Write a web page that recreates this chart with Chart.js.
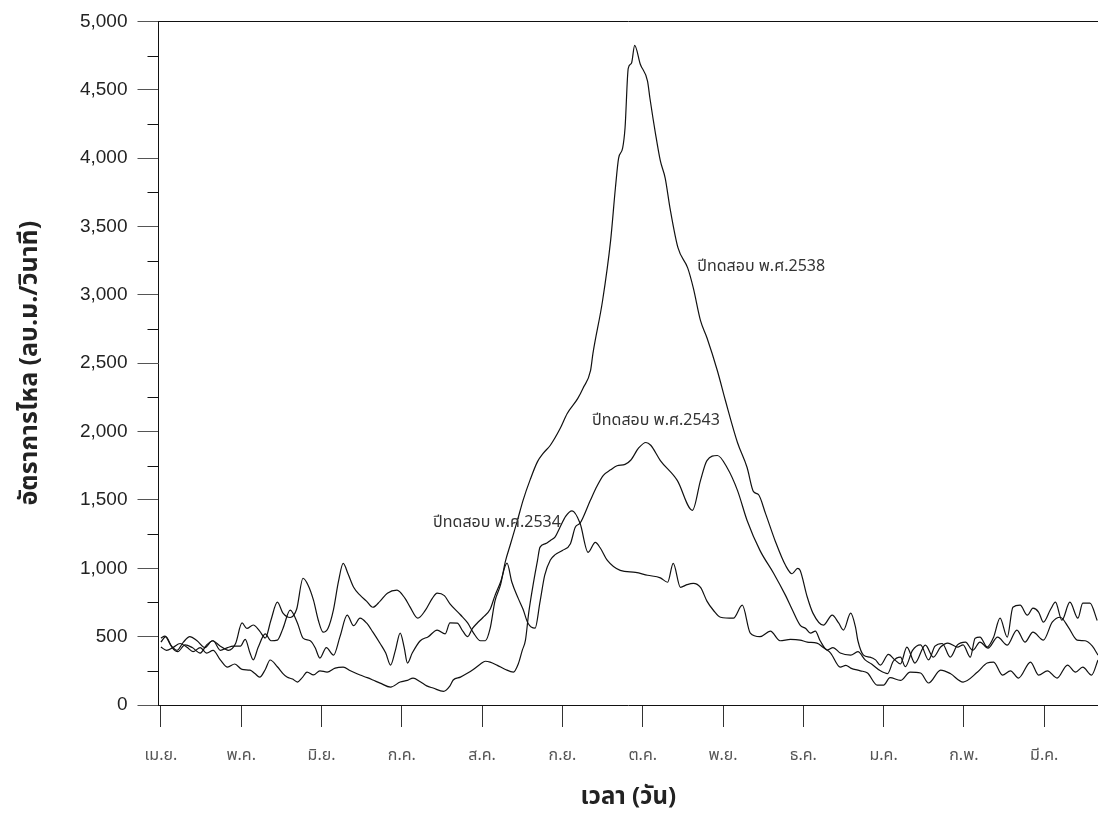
<!DOCTYPE html>
<html>
<head>
<meta charset="utf-8">
<script src="https://cdn.jsdelivr.net/npm/chart.js@4.4.1/dist/chart.umd.min.js"></script>
<style>
  body { margin: 0; background: #fff; }
</style>
</head>
<body>
<canvas id="flowChart" width="1098" height="814"></canvas>
<script>
// x = month index from April (0 = เม.ย.), y = flow in m3/s
const monthLabels = ['เม.ย.', 'พ.ค.', 'มิ.ย.', 'ก.ค.', 'ส.ค.', 'ก.ย.', 'ต.ค.', 'พ.ย.', 'ธ.ค.', 'ม.ค.', 'ก.พ.', 'มี.ค.'];

const flow2538 = [
  [0.00,489],[0.05,504],[0.12,440],[0.20,400],[0.28,460],[0.36,500],[0.45,470],[0.55,420],[0.64,470],[0.74,430],
  [0.84,400],[0.93,450],[1.01,600],[1.07,560],[1.15,585],[1.23,540],[1.30,490],[1.37,620],[1.45,752],[1.52,672],
  [1.61,640],[1.69,700],[1.77,927],[1.83,880],[1.90,767],[1.96,620],[2.02,533],[2.08,560],[2.15,700],[2.21,900],
  [2.27,1036],[2.33,960],[2.40,861],[2.48,803],[2.56,760],[2.64,715],[2.73,760],[2.82,818],[2.94,840],[3.04,780],
  [3.10,720],[3.20,635],[3.29,690],[3.38,780],[3.44,818],[3.53,800],[3.60,740],[3.73,660],[3.82,600],[3.89,530],
  [3.98,470],[4.04,470],[4.10,560],[4.16,760],[4.23,880],[4.29,1050],[4.35,1170],[4.44,1350],[4.51,1497],[4.60,1650],
  [4.69,1780],[4.76,1840],[4.85,1900],[4.97,2020],[5.06,2132],[5.19,2241],[5.26,2321],[5.35,2445],[5.38,2570],[5.50,2957],
  [5.60,3395],[5.66,3781],[5.70,4000],[5.75,4073],[5.78,4220],[5.82,4657],[5.86,4694],[5.90,4825],[5.97,4687],[6.06,4563],
  [6.09,4438],[6.16,4176],[6.22,3979],[6.28,3854],[6.34,3635],[6.44,3343],[6.56,3197],[6.63,3051],[6.72,2811],[6.80,2686],
  [6.93,2445],[7.03,2227],[7.18,1920],[7.30,1737],[7.38,1560],[7.44,1540],[7.53,1400],[7.65,1200],[7.78,1020],[7.86,960],
  [7.93,1000],[7.96,985],[8.05,788],[8.12,672],[8.25,584],[8.36,657],[8.44,600],[8.50,548],[8.59,672],[8.65,570],
  [8.68,470],[8.75,365],[8.83,350],[8.90,330],[8.96,292],[9.06,370],[9.14,330],[9.21,300],[9.29,424],[9.39,307],
  [9.52,438],[9.62,350],[9.71,424],[9.80,453],[9.92,424],[9.99,440],[10.08,350],[10.14,489],[10.20,496],[10.29,424],
  [10.37,496],[10.45,635],[10.54,496],[10.61,715],[10.70,730],[10.79,657],[10.86,708],[10.93,680],[10.99,606],[11.08,700],
  [11.14,752],[11.22,620],[11.32,752],[11.42,635],[11.48,745],[11.57,745],[11.66,618]
];

const flow2543 = [
  [0.00,460],[0.06,500],[0.14,420],[0.21,390],[0.30,440],[0.39,420],[0.49,380],[0.57,440],[0.65,470],[0.74,400],
  [0.83,420],[0.90,430],[0.99,430],[1.05,480],[1.11,380],[1.15,330],[1.21,420],[1.30,520],[1.37,470],[1.45,475],
  [1.52,560],[1.61,694],[1.70,600],[1.77,489],[1.86,470],[1.92,420],[1.98,343],[2.06,420],[2.15,365],[2.23,500],
  [2.32,657],[2.40,580],[2.48,635],[2.56,600],[2.64,533],[2.73,450],[2.80,380],[2.86,292],[2.92,400],[2.98,526],
  [3.03,420],[3.07,307],[3.13,380],[3.23,470],[3.33,500],[3.44,548],[3.54,520],[3.60,600],[3.69,599],[3.76,540],
  [3.82,500],[3.88,560],[3.94,600],[4.01,640],[4.10,700],[4.16,800],[4.23,900],[4.31,1037],[4.37,900],[4.45,780],
  [4.51,700],[4.57,600],[4.66,562],[4.72,750],[4.78,950],[4.85,1060],[4.91,1100],[5.00,1130],[5.10,1180],[5.16,1300],
  [5.22,1330],[5.35,1500],[5.43,1600],[5.51,1680],[5.60,1720],[5.68,1750],[5.78,1760],[5.85,1790],[5.95,1880],[6.04,1920],
  [6.10,1900],[6.22,1788],[6.43,1643],[6.62,1424],[6.72,1643],[6.80,1788],[6.93,1825],[7.05,1737],[7.18,1570],[7.30,1350],
  [7.46,1131],[7.63,964],[7.78,800],[7.86,700],[7.96,584],[8.03,560],[8.09,526],[8.15,540],[8.21,470],[8.30,402],
  [8.37,420],[8.46,380],[8.59,365],[8.68,390],[8.77,330],[8.85,300],[8.96,250],[9.05,230],[9.12,320],[9.21,350],
  [9.27,280],[9.36,400],[9.46,440],[9.56,330],[9.64,430],[9.73,450],[9.83,350],[9.92,440],[10.02,460],[10.11,400],
  [10.20,460],[10.30,416],[10.42,496],[10.54,438],[10.66,548],[10.76,460],[10.86,533],[10.99,475],[11.10,606],[11.20,642],
  [11.30,570],[11.41,475],[11.51,470],[11.60,430],[11.67,365]
];

const flow2534 = [
  [0.00,424],[0.07,400],[0.15,420],[0.24,450],[0.33,420],[0.40,390],[0.49,420],[0.57,380],[0.65,400],[0.74,330],
  [0.83,277],[0.92,300],[1.01,260],[1.11,255],[1.17,230],[1.23,204],[1.30,260],[1.36,329],[1.45,280],[1.52,230],
  [1.57,204],[1.64,190],[1.70,168],[1.76,200],[1.82,241],[1.90,220],[1.98,250],[2.07,241],[2.17,270],[2.27,277],
  [2.36,250],[2.48,219],[2.57,200],[2.64,183],[2.73,160],[2.86,131],[2.98,168],[3.07,180],[3.14,197],[3.23,170],
  [3.31,140],[3.39,124],[3.52,100],[3.60,140],[3.64,183],[3.73,204],[3.81,230],[3.89,260],[3.98,300],[4.04,320],
  [4.10,314],[4.19,290],[4.29,260],[4.39,241],[4.45,300],[4.50,400],[4.54,475],[4.58,672],[4.63,861],[4.69,1058],
  [4.72,1153],[4.79,1180],[4.85,1204],[4.91,1230],[4.97,1300],[5.04,1380],[5.12,1420],[5.22,1329],[5.32,1117],[5.41,1190],
  [5.47,1150],[5.56,1058],[5.72,985],[5.91,970],[6.06,949],[6.22,930],[6.31,898],[6.38,1036],[6.47,861],[6.55,880],
  [6.63,890],[6.72,860],[6.80,760],[6.88,693],[6.97,642],[7.13,635],[7.24,730],[7.34,526],[7.46,500],[7.59,540],
  [7.71,470],[7.84,480],[7.96,475],[8.05,460],[8.17,453],[8.25,420],[8.34,380],[8.46,277],[8.53,290],[8.59,270],
  [8.71,250],[8.80,234],[8.92,146],[9.00,146],[9.08,200],[9.21,180],[9.33,240],[9.46,234],[9.56,161],[9.71,255],
  [9.83,230],[9.99,168],[10.17,241],[10.29,307],[10.37,314],[10.48,219],[10.58,250],[10.68,197],[10.83,314],[10.93,219],
  [11.04,250],[11.16,197],[11.29,292],[11.39,240],[11.48,277],[11.59,219],[11.67,329]
];

const seriesNames = ['ปีทดสอบ พ.ศ.2538', 'ปีทดสอบ พ.ศ.2543', 'ปีทดสอบ พ.ศ.2534'];
// where each series name is written, in data units [month, flow]
const nameSpots = [[6.68, 3197], [5.37, 2073], [3.39, 1329]];

const thaiFont = 'Tahoma, "Noto Sans Thai", "Noto Sans", "DejaVu Sans", sans-serif';
const numFont = '"Liberation Sans", Arial, sans-serif';

const toPoints = arr => arr.map(([x, y]) => ({x: x, y: y}));

const minorTicks = {
    id: 'minorTicks',
    afterDraw(chart) {
        const yScale = chart.scales.y;
        const ctx = chart.ctx;
        ctx.save();
        ctx.strokeStyle = '#111';
        ctx.lineWidth = 1;
        for (let v = 250; v < 5000; v += 500) {
            const py = Math.round(yScale.getPixelForValue(v)) + 0.5;
            ctx.beginPath();
            ctx.moveTo(yScale.right - 11, py);
            ctx.lineTo(yScale.right, py);
            ctx.stroke();
        }
        ctx.restore();
    }
};

const seriesLabels = {
    id: 'seriesLabels',
    afterDatasetsDraw(chart) {
        const {ctx, scales: {x, y}} = chart;
        ctx.save();
        ctx.font = '16px ' + thaiFont;
        ctx.fillStyle = '#333';
        ctx.textBaseline = 'middle';
        ctx.textAlign = 'left';
        nameSpots.forEach(([mx, my], i) => {
            ctx.fillText(seriesNames[i], x.getPixelForValue(mx), y.getPixelForValue(my));
        });
        ctx.restore();
    }
};

const ctx = document.getElementById('flowChart').getContext('2d');
new Chart(ctx, {
    type: 'line',
    data: {
        datasets: [flow2538, flow2543, flow2534].map((d, i) => ({
            label: seriesNames[i],
            data: toPoints(d),
            borderColor: '#111',
            borderWidth: 1.2,
            pointRadius: 0,
            fill: false,
            cubicInterpolationMode: 'monotone'
        }))
    },
    options: {
        responsive: false,
        animation: false,
        layout: { padding: { top: 20, right: 0, left: 0, bottom: 0 } },
        plugins: {
            legend: { display: false },
            tooltip: { enabled: false }
        },
        scales: {
            x: {
                type: 'linear',
                min: -0.03,
                max: 11.67,
                afterBuildTicks: scale => {
                    scale.ticks = monthLabels.map((_, i) => ({ value: i }));
                },
                afterFit: scale => { scale.height = 109; },
                grid: { drawOnChartArea: false, tickLength: 22, color: '#333' },
                border: { color: '#111', width: 1 },
                ticks: {
                    callback: v => monthLabels[v],
                    padding: 20,
                    color: '#555',
                    autoSkip: false,
                    maxRotation: 0,
                    font: { size: 16, family: thaiFont }
                },
                title: {
                    display: true,
                    text: 'เวลา (วัน)',
                    color: '#222',
                    font: { size: 24, weight: 'bold', family: thaiFont },
                    padding: { top: 0, bottom: 0 }
                }
            },
            y: {
                min: 0,
                max: 5000,
                afterFit: scale => { scale.width = 158.5; },
                grid: {
                    tickLength: 21,
                    color: c => (c.tick && c.tick.value === 5000) ? '#111' : 'rgba(0,0,0,0)',
                    tickColor: '#555'
                },
                border: { color: '#111', width: 1 },
                ticks: {
                    stepSize: 500,
                    padding: 10,
                    color: '#222',
                    callback: v => v.toLocaleString('en-US'),
                    font: { size: 19, family: numFont }
                },
                title: {
                    display: true,
                    text: 'อัตราการไหล (ลบ.ม./วินาที)',
                    color: '#222',
                    font: { size: 25, weight: 'bold', family: thaiFont },
                    padding: { top: 17, bottom: 0 }
                }
            }
        }
    },
    plugins: [minorTicks, seriesLabels]
});
</script>
</body>
</html>
